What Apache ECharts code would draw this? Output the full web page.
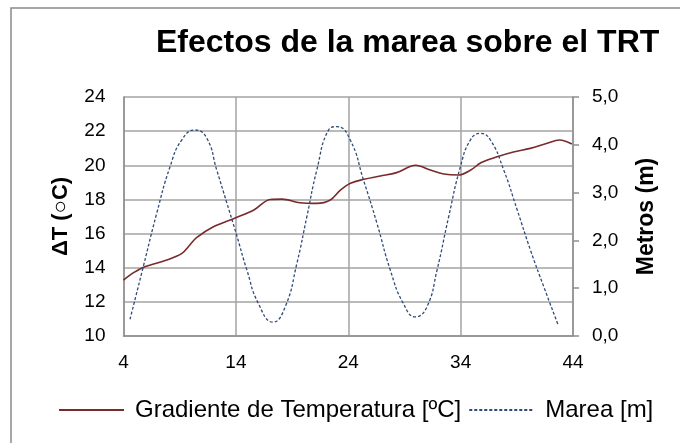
<!DOCTYPE html>
<html>
<head>
<meta charset="utf-8">
<script src="https://cdn.jsdelivr.net/npm/echarts@6/dist/echarts.min.js"></script>
<style>
  html, body { margin: 0; padding: 0; background: #ffffff; }
  #chart { width: 680px; height: 443px; }
</style>
</head>
<body>
<div id="chart"></div>
<script>
// Temperature gradient readings (time, °C) and tide height readings (time, m)
const tempTime = [4, 4.9, 5.9, 7.85, 9.2, 9.9, 10.5, 12, 14, 15.6, 17.05, 18.1, 19.7, 21.2, 22.4, 23.3, 24.2, 25.4, 26.85, 28.3, 30.0, 31.3, 32.5, 33.8, 34.9, 35.8, 37.25, 38.7, 40.2, 41.7, 42.8, 43.9];
const tempValues = [13.28, 13.71, 14.06, 14.45, 14.84, 15.33, 15.76, 16.4, 16.93, 17.38, 18.0, 18.02, 17.81, 17.77, 17.97, 18.55, 18.95, 19.18, 19.37, 19.57, 20.0, 19.72, 19.49, 19.43, 19.72, 20.15, 20.5, 20.78, 20.99, 21.29, 21.48, 21.25];

const tideTime = [4.58, 5.76, 6.96, 8.14, 9.18, 10.37, 11.41, 12.3, 13.2, 14.02, 14.98, 16.0, 17.3, 18.39, 19.43, 20.32, 21.2, 22.25, 23.0, 24.18, 25.36, 26.55, 27.74, 28.9, 29.97, 31.0, 31.9, 32.94, 33.98, 34.87, 35.76, 36.65, 37.84, 39.03, 40.21, 41.4, 42.68];
const tideValues = [0.35, 1.45, 2.57, 3.54, 4.10, 4.31, 4.14, 3.47, 2.78, 2.15, 1.38, 0.68, 0.29, 0.61, 1.52, 2.50, 3.47, 4.31, 4.38, 4.10, 3.26, 2.36, 1.38, 0.68, 0.40, 0.61, 1.38, 2.50, 3.54, 4.10, 4.24, 4.10, 3.47, 2.64, 1.80, 1.03, 0.23];

const seriesNames = ['Gradiente de Temperatura [ºC]', 'Marea [m]'];
const xTicks = [4, 14, 24, 34, 44];
const leftTicks = [10, 12, 14, 16, 18, 20, 22, 24];
const rightTicks = [0, 1, 2, 3, 4, 5];

const FONT = '"Liberation Sans", Arial, sans-serif';
const GRID_COLOR = '#a3a3a3';
const AXIS_COLOR = '#8f8f8f';
const TEMP_COLOR = '#7a2a2a';
const TIDE_COLOR = '#2e4a78';

const pairs = (xs, ys) => xs.map((x, i) => [x, ys[i]]);

const chart = echarts.init(document.getElementById('chart'), null, { renderer: 'canvas' });

chart.setOption({
  animation: false,
  backgroundColor: '#ffffff',
  textStyle: { fontFamily: FONT },
  graphic: [{
    type: 'rect',
    shape: { x: 11, y: 8, width: 720, height: 500 },
    style: { fill: 'none', stroke: '#8a8a8a', lineWidth: 1.5 },
    silent: true
  }],
  title: {
    text: 'Efectos de la marea sobre el TRT',
    left: 156,
    top: 27,
    padding: 0,
    textStyle: { fontFamily: FONT, fontSize: 32, fontWeight: 'bold', color: '#000000' }
  },
  legend: {
    left: 58,
    top: 398,
    padding: 0,
    itemWidth: 65,
    itemHeight: 24,
    itemGap: 7,
    data: seriesNames,
    itemStyle: { opacity: 0 },
    textStyle: { fontFamily: FONT, fontSize: 24, color: '#000000', padding: [0, 0, 0, 6] }
  },
  grid: { left: 123.5, right: 107, top: 97, bottom: 107, containLabel: false },
  xAxis: {
    type: 'value',
    min: xTicks[0],
    max: xTicks[xTicks.length - 1],
    interval: xTicks[1] - xTicks[0],
    axisLine: { show: true, lineStyle: { color: AXIS_COLOR, width: 1.5 } },
    axisTick: { show: false },
    axisLabel: { fontFamily: FONT, fontSize: 19, color: '#000000', margin: 17 },
    splitLine: { show: true, lineStyle: { color: GRID_COLOR, width: 1.5 } }
  },
  yAxis: [{
    type: 'value',
    position: 'left',
    min: leftTicks[0],
    max: leftTicks[leftTicks.length - 1],
    interval: leftTicks[1] - leftTicks[0],
    name: 'ΔT (○C)',
    nameLocation: 'middle',
    nameRotate: 90,
    nameGap: 52,
    nameTextStyle: { fontFamily: FONT, fontSize: 22, fontWeight: 'bold', color: '#000000' },
    axisLine: { show: true, lineStyle: { color: AXIS_COLOR, width: 1.5 } },
    axisTick: { show: false },
    axisLabel: { fontFamily: FONT, fontSize: 19, color: '#000000', margin: 18 },
    splitLine: { show: true, lineStyle: { color: GRID_COLOR, width: 1.5 } }
  }, {
    type: 'value',
    position: 'right',
    min: rightTicks[0],
    max: rightTicks[rightTicks.length - 1],
    interval: rightTicks[1] - rightTicks[0],
    name: 'Metros (m)',
    nameLocation: 'middle',
    nameRotate: 90,
    nameGap: 62,
    nameTextStyle: { fontFamily: FONT, fontSize: 23, fontWeight: 'bold', color: '#000000' },
    axisLine: { show: true, lineStyle: { color: AXIS_COLOR, width: 1.5 } },
    axisTick: { show: true, inside: false, length: 6, lineStyle: { color: AXIS_COLOR, width: 1.5 } },
    axisLabel: {
      fontFamily: FONT, fontSize: 19, color: '#000000', margin: 19,
      formatter: v => v.toFixed(1).replace('.', ',')
    },
    splitLine: { show: false }
  }],
  series: [{
    name: seriesNames[0],
    type: 'line',
    yAxisIndex: 0,
    data: pairs(tempTime, tempValues),
    smooth: 0.35,
    showSymbol: false,
    symbol: 'none',
    lineStyle: { color: TEMP_COLOR, width: 1.6 },
    itemStyle: { color: TEMP_COLOR }
  }, {
    name: seriesNames[1],
    type: 'line',
    yAxisIndex: 1,
    data: pairs(tideTime, tideValues),
    smooth: 0.5,
    showSymbol: false,
    symbol: 'none',
    lineStyle: { color: TIDE_COLOR, width: 1.3, type: [3, 2] },
    itemStyle: { color: TIDE_COLOR }
  }]
});
</script>
</body>
</html>
